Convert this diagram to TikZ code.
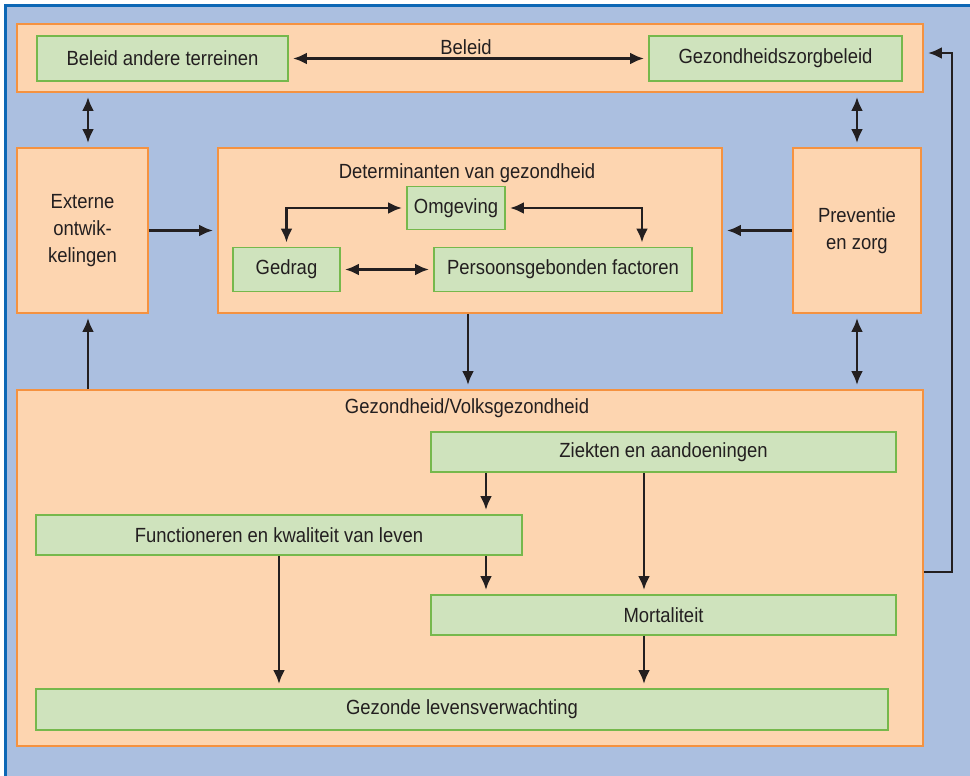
\documentclass[tikz,border=0pt]{standalone}
\usepackage{fontspec}
\setmainfont[FakeStretch=0.9]{Liberation Sans}
\usetikzlibrary{arrows.meta}
\definecolor{bgblue}{RGB}{171,191,224}
\definecolor{frameblue}{RGB}{13,103,181}
\definecolor{peach}{RGB}{253,213,176}
\definecolor{orangeb}{RGB}{245,146,64}
\definecolor{greenf}{RGB}{207,227,189}
\definecolor{greenb}{RGB}{118,184,76}
\definecolor{ink}{RGB}{35,31,32}
\tikzset{
  outerbox/.style={draw=orangeb, fill=peach, line width=1.8pt, rectangle, inner sep=0pt},
  greenbox/.style={draw=greenb, fill=greenf, line width=1.8pt, rectangle, inner sep=0pt, text=ink, font=\fontsize{20.5}{24}\selectfont},
  lbl/.style={text=ink, font=\fontsize{20.5}{27}\selectfont, inner sep=0pt, align=center},
  tip/.tip={Latex[length=14pt,width=12pt]},
  ar/.style={draw=ink, line width=2.9pt, -tip, shorten >=4pt},
  dar/.style={draw=ink, line width=2.9pt, tip-tip, shorten >=4pt, shorten <=4pt},
}
\begin{document}
\begin{tikzpicture}[x=1pt,y=-1pt]
\useasboundingbox (0,0) rectangle (970,776);
\fill[white] (0,0) rectangle (970,776);
\fill[bgblue] (4,4) rectangle (970,776);
\draw[frameblue, line width=3.5pt] (5.5,776) -- (5.5,5.5) -- (970,5.5);

% outer boxes
\node[outerbox, minimum width=906pt, minimum height=68pt] (beleid) at (470,58) {};
\node[outerbox, minimum width=131pt, minimum height=165pt] (ext) at (82.5,230.5) {};
\node[outerbox, minimum width=504pt, minimum height=165pt] (det) at (470,230.5) {};
\node[outerbox, minimum width=128pt, minimum height=165pt] (prev) at (857,230.5) {};
\node[outerbox, minimum width=906pt, minimum height=356pt] (gez) at (470,568) {};

% labels in outer boxes
\node[lbl] (tbeleid) at (466,47) {Beleid};
\node[lbl] (text) at (82.5,230.5) {Externe\\ontwik-\\kelingen};
\node[lbl] (tdet) at (467,173) {Determinanten van gezondheid};
\node[lbl] (tprev) at (857,230.5) {Preventie\\en zorg};
\node[lbl] (tgez) at (467,408) {Gezondheid/Volksgezondheid};

% green boxes
\node[greenbox, minimum width=251pt, minimum height=45pt] (bat) at (162.5,58.5) {Beleid andere terreinen};
\node[greenbox, minimum width=253pt, minimum height=45pt] (gzb) at (775.5,58.5) {Gezondheidszorgbeleid};
\node[greenbox, minimum width=98pt, minimum height=43pt] (omg) at (456,208) {Omgeving};
\node[greenbox, minimum width=107pt, minimum height=44pt] (ged) at (286.5,269.5) {Gedrag};
\node[greenbox, minimum width=258pt, minimum height=44pt] (pers) at (563,269.5) {Persoonsgebonden factoren};
\node[greenbox, minimum width=465pt, minimum height=40pt] (zie) at (663.5,452) {Ziekten en aandoeningen};
\node[greenbox, minimum width=486pt, minimum height=40pt] (fun) at (279,535) {Functioneren en kwaliteit van leven};
\node[greenbox, minimum width=465pt, minimum height=40pt] (mor) at (663.5,615) {Mortaliteit};
\node[greenbox, minimum width=852pt, minimum height=41pt] (gzl) at (462,709.5) {Gezonde levensverwachting};

% helper coordinates
\coordinate (xa) at (88,0);
\coordinate (xd) at (468,0);
\coordinate (xp) at (642,0);
\coordinate (xz) at (486,0);
\coordinate (xm) at (644,0);
\coordinate (xr) at (952,0);
\coordinate (yr) at (0,572);
\coordinate (yt) at (0,53);

% connectors
\draw[dar] (bat.east) -- (gzb.west);
\draw[dar] (beleid.south -| xa) -- (ext.north -| xa);
\draw[dar] (beleid.south -| prev.north) -- (prev.north);
\draw[ar] (ext.east) -- (det.west);
\draw[ar] (prev.west) -- (det.east);
\draw[ar] (det.south -| xd) -- (gez.north -| xd);
\draw[dar] (prev.south) -- (gez.north -| prev.south);
\draw[ar] (gez.north -| xa) -- (ext.south -| xa);
\draw[dar] (omg.west) -| (ged.north);
\draw[dar] (omg.east) -| (pers.north -| xp);
\draw[dar] (ged.east) -- (pers.west);
\draw[ar] (zie.south -| xz) -- (fun.north -| xz);
\draw[ar] (fun.south -| xz) -- (mor.north -| xz);
\draw[ar] (zie.south -| xm) -- (mor.north -| xm);
\draw[ar] (fun.south) -- (gzl.north -| fun.south);
\draw[ar] (mor.south -| xm) -- (gzl.north -| xm);
\draw[ar] (gez.east |- yr) -- (xr |- yr) -- (xr |- yt) -- (beleid.east |- yt);
\end{tikzpicture}
\end{document}
